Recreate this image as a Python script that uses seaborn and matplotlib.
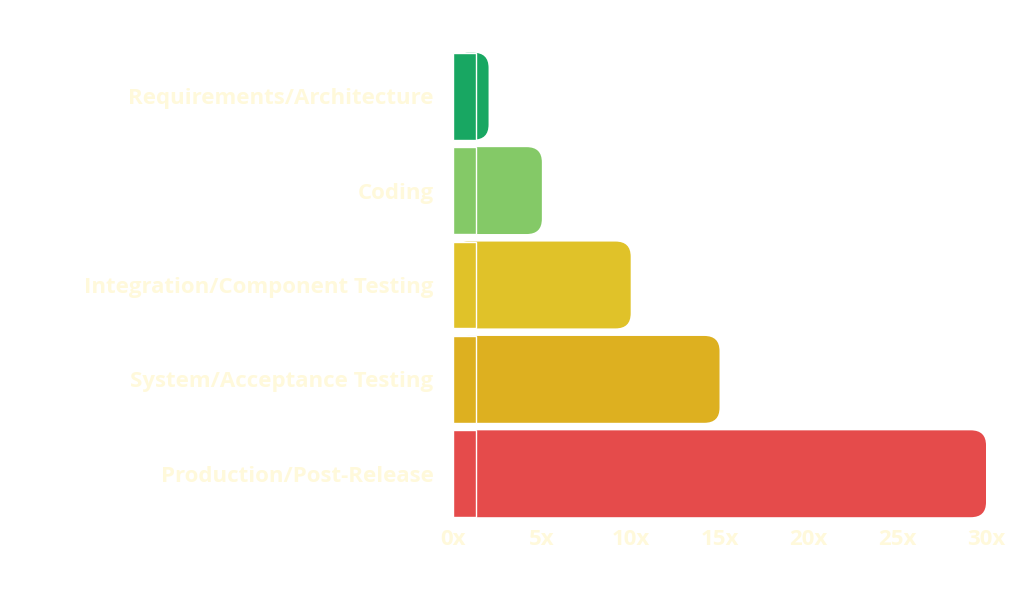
import matplotlib
matplotlib.use("Agg")
import matplotlib.pyplot as plt
import seaborn as sns
import pandas as pd
from matplotlib.patches import FancyBboxPatch

# ------------------------------
# Data
# ------------------------------
phases = ["Requirements/Architecture", "Coding", "Integration/Component Testing",
          "System/Acceptance Testing", "Production/Post-Release"]
cost = [2, 5, 10, 15, 30]
colors = ["#00BF63", "#7ED957", "#FFD60A", "#FCC100", "#FF3131"]
xticks = [0, 5, 10, 15, 20, 25, 30]
xlabels = [f"{t}x" for t in xticks]

text_color = "#FFF9DB"

sns.set_theme(style="white")
plt.rcParams["font.family"] = ["Open Sans", "DejaVu Sans"]

df = pd.DataFrame({"phase": phases, "cost": cost})

fig = plt.figure(figsize=(10.24, 6.02), dpi=100)
ax = fig.add_axes([0.4424, 0.1346, 0.5205, 0.784])
sns.barplot(data=df, x="cost", y="phase", hue="phase", palette=colors,
            width=0.92, legend=False, ax=ax)
ax.set_xlim(0, 30)
ax.set_ylim(4.5, -0.5)

# rounded right ends: replace each bar with a rounded patch plus square left part
r = 0.85
aspect = 0.187
for bar in list(ax.patches):
    x0, y0 = bar.get_x(), bar.get_y()
    w, h = bar.get_width(), bar.get_height()
    c = bar.get_facecolor()
    ax.add_patch(FancyBboxPatch((x0, y0), w, h,
                                boxstyle=f"round,pad=0,rounding_size={r}",
                                mutation_aspect=aspect, facecolor=c,
                                edgecolor="none", zorder=2))
    bar.set_width(min(w, r * 1.5))
    bar.set_zorder(3)

ax.set_xticks(xticks)
ax.set_xticklabels(xlabels)
ax.set_xlabel("")
ax.set_ylabel("")
ax.tick_params(axis="both", length=0, labelsize=16, colors=text_color)
ax.tick_params(axis="y", pad=14)
ax.tick_params(axis="x", pad=6)
for lab in ax.get_xticklabels() + ax.get_yticklabels():
    lab.set_fontweight("bold")
sns.despine(ax=ax, left=True, bottom=True)

fig.savefig("out.png", dpi=100, facecolor="white")
